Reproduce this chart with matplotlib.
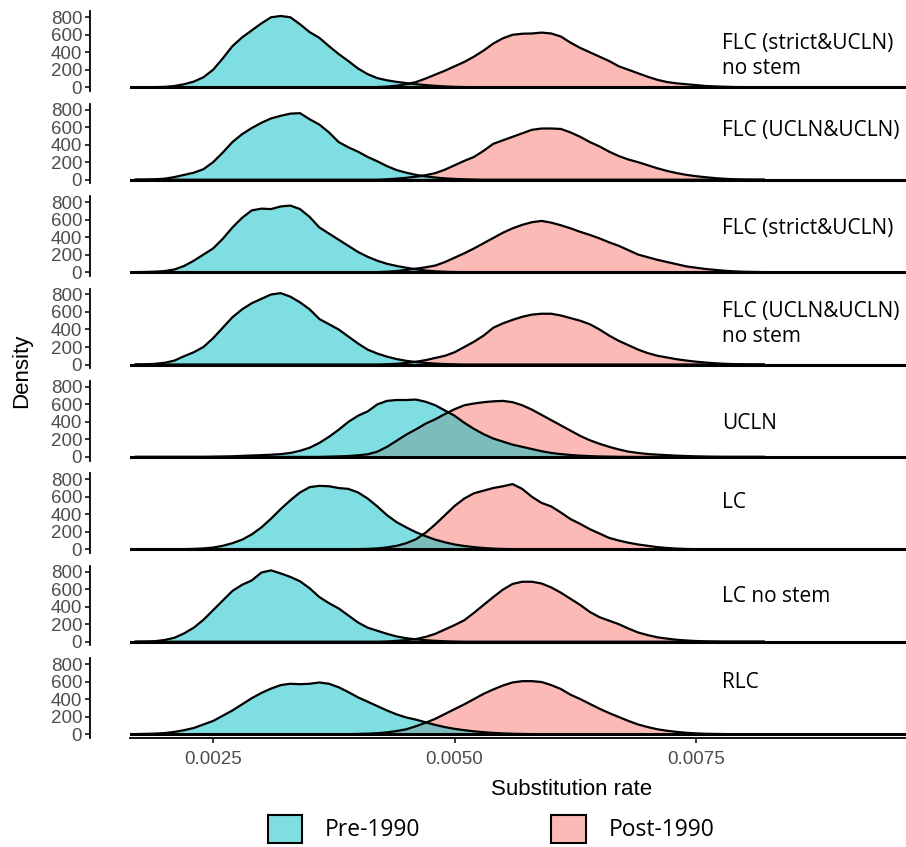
import matplotlib
matplotlib.use("Agg")
import matplotlib.pyplot as plt
from matplotlib.colors import to_rgba
from matplotlib.patches import Patch

plt.rcParams['font.family'] = ['Liberation Sans', 'DejaVu Sans']

# substitution-rate grid the densities were read on
rate = [0.0017, 0.0018, 0.0019, 0.0020, 0.0021, 0.0022, 0.0023, 0.0024, 0.0025, 0.0026,
        0.0027, 0.0028, 0.0029, 0.0030, 0.0031, 0.0032, 0.0033, 0.0034, 0.0035, 0.0036,
        0.0037, 0.0038, 0.0039, 0.0040, 0.0041, 0.0042, 0.0043, 0.0044, 0.0045, 0.0046,
        0.0047, 0.0048, 0.0049, 0.0050, 0.0051, 0.0052, 0.0053, 0.0054, 0.0055, 0.0056,
        0.0057, 0.0058, 0.0059, 0.0060, 0.0061, 0.0062, 0.0063, 0.0064, 0.0065, 0.0066,
        0.0067, 0.0068, 0.0069, 0.0070, 0.0071, 0.0072, 0.0073, 0.0074, 0.0075, 0.0076,
        0.0077, 0.0078, 0.0079, 0.0080, 0.0081, 0.0082]

models = ["FLC (strict&UCLN)\nno stem", "FLC (UCLN&UCLN)", "FLC (strict&UCLN)",
          "FLC (UCLN&UCLN)\nno stem", "UCLN", "LC", "LC no stem", "RLC"]

pre_flc_su_nostem = [0, 0, 2, 5, 15, 35, 65, 115, 200, 330,
                     470, 570, 650, 730, 800, 815, 800, 720, 630, 565,
                     470, 380, 300, 215, 150, 105, 80, 62, 48, 36,
                     25, 17, 10, 5, 3, 1, 0, 0, 0, 0,
                     0, 0, 0, 0, 0, 0, 0, 0, 0, 0,
                     0, 0, 0, 0, 0, 0, 0, 0, 0, 0,
                     0, 0, 0, 0, 0, 0]
post_flc_su_nostem = [0, 0, 0, 0, 0, 0, 0, 0, 0, 0,
                      0, 0, 0, 0, 0, 0, 0, 0, 0, 0,
                      0, 0, 0, 0, 0, 3, 8, 18, 35, 60,
                      100, 145, 190, 240, 290, 350, 420, 500, 560, 600,
                      612, 615, 625, 615, 580, 510, 450, 400, 350, 300,
                      240, 200, 160, 120, 85, 60, 45, 35, 25, 15,
                      10, 6, 3, 2, 1, 0]

pre_flc_uu = [0, 2, 5, 12, 30, 55, 80, 120, 200, 310,
              430, 520, 590, 650, 700, 730, 755, 760, 690, 630,
              540, 430, 370, 320, 260, 210, 155, 110, 80, 55,
              38, 25, 15, 9, 5, 2, 0, 0, 0, 0,
              0, 0, 0, 0, 0, 0, 0, 0, 0, 0,
              0, 0, 0, 0, 0, 0, 0, 0, 0, 0,
              0, 0, 0, 0, 0, 0]
post_flc_uu = [0, 0, 0, 0, 0, 0, 0, 0, 0, 0,
               0, 0, 0, 0, 0, 0, 0, 0, 0, 0,
               0, 0, 0, 0, 0, 0, 5, 12, 22, 35,
               52, 75, 115, 165, 215, 260, 330, 410, 450, 490,
               530, 570, 585, 585, 580, 540, 490, 430, 380, 320,
               270, 230, 200, 165, 130, 100, 75, 55, 40, 28,
               18, 10, 5, 2, 0, 0]

pre_flc_su = [0, 2, 5, 12, 30, 70, 130, 200, 270, 380,
              510, 620, 705, 725, 720, 750, 760, 720, 630, 510,
              440, 370, 300, 230, 175, 130, 95, 70, 50, 32,
              18, 9, 4, 1, 0, 0, 0, 0, 0, 0,
              0, 0, 0, 0, 0, 0, 0, 0, 0, 0,
              0, 0, 0, 0, 0, 0, 0, 0, 0, 0,
              0, 0, 0, 0, 0, 0]
post_flc_su = [0, 0, 0, 0, 0, 0, 0, 0, 0, 0,
               0, 0, 0, 0, 0, 0, 0, 0, 0, 0,
               0, 0, 0, 0, 0, 0, 5, 12, 25, 40,
               55, 75, 115, 165, 215, 270, 330, 390, 450, 500,
               540, 570, 585, 565, 535, 500, 460, 425, 385, 340,
               300, 250, 200, 170, 140, 115, 90, 65, 50, 35,
               25, 15, 8, 4, 2, 0]

pre_flc_uu_nostem = [0, 2, 8, 20, 45, 95, 140, 200, 300, 420,
                     540, 630, 700, 750, 800, 815, 775, 710, 630, 520,
                     460, 400, 320, 240, 170, 125, 90, 62, 42, 28,
                     18, 10, 5, 2, 0, 0, 0, 0, 0, 0,
                     0, 0, 0, 0, 0, 0, 0, 0, 0, 0,
                     0, 0, 0, 0, 0, 0, 0, 0, 0, 0,
                     0, 0, 0, 0, 0, 0]
post_flc_uu_nostem = [0, 0, 0, 0, 0, 0, 0, 0, 0, 0,
                      0, 0, 0, 0, 0, 0, 0, 0, 0, 0,
                      0, 0, 0, 0, 0, 0, 3, 8, 18, 32,
                      50, 75, 100, 140, 200, 260, 330, 420, 470, 510,
                      545, 570, 580, 580, 560, 530, 500, 460, 400, 330,
                      270, 220, 170, 130, 100, 80, 60, 45, 32, 22,
                      14, 8, 4, 2, 0, 0]

pre_ucln = [0, 0, 0, 0, 0, 0, 0, 0, 2, 4,
            7, 12, 16, 20, 25, 32, 45, 70, 105, 160,
            230, 310, 400, 470, 520, 600, 640, 650, 650, 655,
            630, 590, 530, 470, 390, 320, 260, 210, 175, 140,
            115, 90, 65, 45, 32, 22, 14, 9, 5, 3,
            1, 0, 0, 0, 0, 0, 0, 0, 0, 0,
            0, 0, 0, 0, 0, 0]
post_ucln = [0, 0, 0, 0, 0, 0, 0, 0, 0, 0,
             0, 0, 0, 0, 0, 0, 0, 0, 0, 0,
             3, 6, 10, 18, 30, 60, 115, 185, 255, 315,
             380, 430, 490, 545, 590, 610, 625, 635, 640, 625,
             590, 540, 480, 420, 360, 300, 240, 190, 150, 115,
             85, 60, 45, 33, 26, 20, 14, 10, 6, 3,
             1, 0, 0, 0, 0, 0]

pre_lc = [0, 0, 0, 0, 0, 2, 5, 10, 20, 40,
          70, 110, 170, 250, 350, 460, 560, 650, 710, 725,
          720, 700, 690, 650, 580, 490, 390, 310, 250, 195,
          150, 110, 80, 55, 38, 25, 15, 8, 4, 2,
          0, 0, 0, 0, 0, 0, 0, 0, 0, 0,
          0, 0, 0, 0, 0, 0, 0, 0, 0, 0,
          0, 0, 0, 0, 0, 0]
post_lc = [0, 0, 0, 0, 0, 0, 0, 0, 0, 0,
           0, 0, 0, 0, 0, 0, 0, 0, 0, 0,
           0, 0, 0, 2, 5, 10, 22, 40, 70, 115,
           190, 285, 390, 495, 580, 640, 670, 700, 720, 745,
           690, 600, 530, 490, 420, 345, 290, 230, 180, 130,
           100, 75, 55, 40, 25, 15, 8, 4, 2, 0,
           0, 0, 0, 0, 0, 0]

pre_lc_nostem = [0, 2, 6, 20, 45, 95, 160, 250, 360, 470,
                 580, 650, 700, 790, 815, 780, 740, 690, 610, 510,
                 440, 380, 300, 220, 160, 125, 90, 60, 40, 27,
                 17, 10, 5, 2, 0, 0, 0, 0, 0, 0,
                 0, 0, 0, 0, 0, 0, 0, 0, 0, 0,
                 0, 0, 0, 0, 0, 0, 0, 0, 0, 0,
                 0, 0, 0, 0, 0, 0]
post_lc_nostem = [0, 0, 0, 0, 0, 0, 0, 0, 0, 0,
                  0, 0, 0, 0, 0, 0, 0, 0, 0, 0,
                  0, 0, 0, 0, 0, 0, 3, 10, 18, 30,
                  55, 90, 140, 190, 245, 330, 420, 510, 595, 660,
                  685, 685, 665, 620, 560, 490, 420, 340, 280, 240,
                  200, 150, 105, 75, 50, 35, 22, 14, 8, 4,
                  2, 0, 0, 0, 0, 0]

pre_rlc = [0, 3, 6, 12, 25, 45, 70, 110, 150, 210,
           270, 340, 410, 470, 520, 560, 575, 570, 575, 590,
           575, 535, 480, 420, 370, 320, 270, 225, 190, 165,
           135, 105, 80, 60, 45, 32, 22, 14, 8, 4,
           2, 0, 0, 0, 0, 0, 0, 0, 0, 0,
           0, 0, 0, 0, 0, 0, 0, 0, 0, 0,
           0, 0, 0, 0, 0, 0]
post_rlc = [0, 0, 0, 0, 0, 0, 0, 0, 0, 0,
            0, 0, 0, 0, 0, 0, 0, 0, 0, 0,
            0, 0, 0, 2, 5, 10, 20, 35, 55, 90,
            130, 175, 230, 285, 340, 400, 460, 510, 555, 590,
            605, 605, 595, 560, 515, 450, 400, 345, 290, 240,
            195, 150, 110, 80, 55, 38, 25, 15, 8, 4,
            2, 0, 0, 0, 0, 0]

pre = [pre_flc_su_nostem, pre_flc_uu, pre_flc_su, pre_flc_uu_nostem,
       pre_ucln, pre_lc, pre_lc_nostem, pre_rlc]
post = [post_flc_su_nostem, post_flc_uu, post_flc_su, post_flc_uu_nostem,
        post_ucln, post_lc, post_lc_nostem, post_rlc]

# label height inside each panel (density units)
label_y = [360, 560, 500, 463, 377, 537, 514, 594]

PRE = to_rgba('#00BFC4', 0.5)
POST = to_rgba('#F8766D', 0.5)
GREY = '#4D4D4D'
W, H = 906, 847

fig = plt.figure(figsize=(W / 100, H / 100), dpi=100)

for k in range(8):
    top = 11.5 + 92.4 * k
    ax = fig.add_axes([130 / W, 1 - (top + 79.4) / H, (1014 - 130) / W, 79.4 / H])

    # post first, so the pre fill sits on top like in the original
    ax.fill_between(rate, post[k], color=POST, lw=0)
    ax.plot(rate, post[k], color='black', lw=1.6)
    ax.fill_between(rate, pre[k], color=PRE, lw=0)
    ax.plot(rate, pre[k], color='black', lw=1.6)
    ax.axhline(0, color='black', lw=2.2)

    ax.set_xlim(0.00164, 0.01079)
    ax.set_ylim(-41, 866)
    ax.set_yticks([0, 200, 400, 600, 800])
    ax.tick_params(axis='y', length=3.6, width=1.1, pad=2, labelsize=13.5, labelcolor=GREY)

    for s in ['top', 'right']:
        ax.spines[s].set_visible(False)
    ax.spines['left'].set_position(('outward', 28.8))
    ax.spines['left'].set_linewidth(1.3)

    ax.text(0.00777, label_y[k], models[k], ha='left', va='center',
            fontsize=15, family=['Open Sans', 'DejaVu Sans'], linespacing=1.25)

    if k < 7:
        ax.spines['bottom'].set_visible(False)
        ax.set_xticks([])
    else:
        ax.spines['bottom'].set_linewidth(1.3)
        ax.set_xticks([0.0025, 0.0050, 0.0075])
        ax.set_xticklabels(['0.0025', '0.0050', '0.0075'])
        ax.tick_params(axis='x', length=3.6, width=1.1, pad=6, labelsize=13.5, labelcolor=GREY)
        ax.set_xlabel('Substitution rate', fontsize=16, labelpad=8)

fig.text(22 / W, 1 - 371 / H, 'Density', rotation=90, ha='center', va='center', fontsize=16)

handles = [Patch(facecolor=PRE, edgecolor='black', lw=1.5),
           Patch(facecolor=POST, edgecolor='black', lw=1.5)]
fig.legend(handles, ['Pre-1990', 'Post-1990'], loc='upper center',
           bbox_to_anchor=(491 / W, 1 - 794 / H), ncol=2, frameon=False,
           prop={'family': ['Open Sans', 'DejaVu Sans'], 'size': 16.5},
           handlelength=1.5, handleheight=1.5, handletextpad=1.0, columnspacing=5.7)

fig.savefig('out.png', dpi=100)
